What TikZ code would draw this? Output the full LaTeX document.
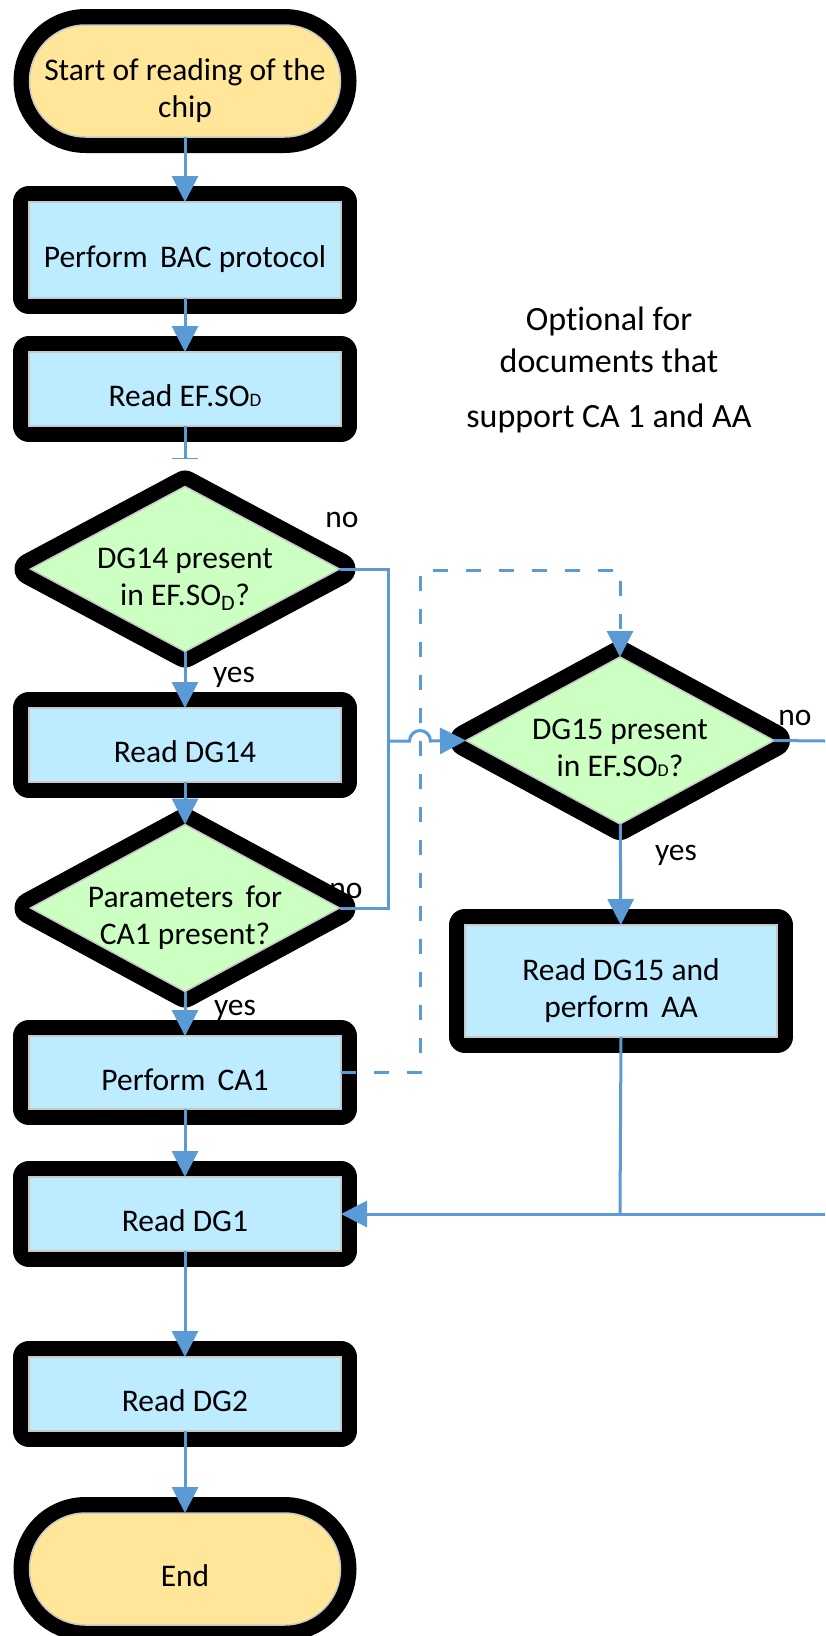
\documentclass[tikz,border=0pt]{standalone}
\usepackage{fontspec}
\setmainfont{Carlito}[Ligatures=NoCommon]
\usetikzlibrary{shapes.geometric, arrows.meta}

\definecolor{termfill}{RGB}{255,230,153}
\definecolor{procfill}{RGB}{189,235,255}
\definecolor{decfill}{RGB}{204,255,194}
\definecolor{rimgray}{RGB}{200,200,200}
\definecolor{wire}{RGB}{91,155,213}

\newcommand{\flowfont}{\fontsize{31.5}{37}\selectfont}
% box text: centred block, set a little below the middle of the shape
\newcommand{\boxtext}[1]{\raisebox{-10.5pt}[\height][\depth]{\begin{tabular}{@{}c@{}}#1\end{tabular}}}

\tikzset{
  framed/.style={preaction={draw=black, line width=32pt, line join=round},
    draw=rimgray, line width=1.5pt, inner sep=0pt, outer sep=0pt, font=\flowfont},
  terminal/.style={framed, fill=termfill, rectangle, rounded corners=55.9pt,
    minimum width=311pt, minimum height=112pt},
  process/.style={framed, fill=procfill, rectangle,
    minimum width=312pt, minimum height=74pt},
  decision/.style={framed, fill=decfill, diamond, aspect=1.86, inner sep=-20pt,
    minimum width=309pt, minimum height=166pt},
  conn/.style={draw=wire, line width=3pt},
  flow/.style={conn, -{Triangle[length=26pt,width=26pt]}},
  optflow/.style={conn, dash pattern=on 15pt off 18pt, -{Triangle[length=26pt,width=26pt]}},
  tag/.style={font=\flowfont, inner sep=0pt, anchor=base},
}

\begin{document}
\begin{tikzpicture}[x=1pt, y=-1pt]
\useasboundingbox (0,0) rectangle (825,1636);
\fill[white] (0,0) rectangle (825,1636);

% main column
\node[terminal] (start) at (185,81) {\boxtext{Start of reading of the\\chip}};
\node[process] (bac) at (185,250) [minimum height=96pt] {\boxtext{Perform\hspace{5pt} BAC protocol}};
\node[process] (efsod) at (185,389) {\boxtext{Read EF.SO{\fontsize{19}{19}\selectfont D}}};
\node[decision] (dg14) at (185,569) [minimum height=165pt] {\boxtext{DG14 present\\in EF.SO\textsubscript{D}?}};
\node[process] (rdg14) at (185,745) {\boxtext{Read DG14}};
\node[decision] (params) at (185,908) [minimum height=167pt] {\boxtext{Parameters\hspace{5pt} for\\CA1 present?}};
\node[tag] (yes2) at (235,1015) {yes};
\node[process] (ca1) at (185,1072.5) [minimum height=73pt] {\boxtext{Perform\hspace{5pt} CA1}};
\node[process] (dg1) at (185,1214) {\boxtext{Read DG1}};
\node[process] (dg2) at (185,1394) {\boxtext{Read DG2}};
\node[terminal] (end) at (185,1569) {\boxtext{End}};

% optional branch
\node[decision] (dg15) at (620,740.5) [minimum width=308pt, minimum height=167pt] {\boxtext{DG15 present\\in EF.SO{\fontsize{18}{18}\selectfont D}?}};
\node[process] (aa) at (621,981) [minimum height=112pt] {\boxtext{Read DG15 and\\perform\hspace{5pt} AA}};

\node[font=\fontsize{34}{42}\selectfont, anchor=base, inner sep=0pt] (note) at (609,330)
  {\begin{tabular}[t]{@{}c@{}}Optional for\\documents that\\[13pt]support CA 1 and AA\end{tabular}};

% branch labels
\node[tag] (no1) at (342,527) {no};
\node[tag] (yes1) at (234,682) {yes};
\node[tag] (no2) at (346,898) {no};
\node[tag] (no3) at (795,725) {no};
\node[tag] (yes3) at (676,860) {yes};

% connector points
\coordinate (stub) at (185,459);
\coordinate (bus) at (388,741);
\coordinate (dashtop) at (420,570);
\coordinate (exitA) at (825,741);
\coordinate (exitB) at (825,1214);
\coordinate (merge) at (620,1214);

% connectors
\draw[flow] (start) -- (bac);
\draw[flow] (bac) -- (efsod);
\draw[conn, -{Bar[width=26pt, line width=1.5pt]}] (efsod) -- (stub);
\draw[flow] (dg14) -- (rdg14);
\draw[flow] (rdg14) -- (params);
\draw[flow] (params) -- (ca1);
\draw[flow] (ca1) -- (dg1);
\draw[flow] (dg1) -- (dg2);
\draw[flow] (dg2) -- (end);

\draw[conn] (dg14.east) -| (bus);
\draw[conn] (params.east) -| (bus);
\draw[flow] (bus) -- (409.5,741) arc[start angle=180, end angle=360, radius=10.5] -- (dg15.west);

\draw[optflow] (ca1.east) -| (dashtop) -| (dg15.north);

\draw[flow] (dg15) -- (aa);
\draw[conn] (dg15.east) -- (exitA);
\draw[conn] (aa.south) -- (merge);
\draw[flow] (exitB) -- (dg1.east);
\end{tikzpicture}
\end{document}
